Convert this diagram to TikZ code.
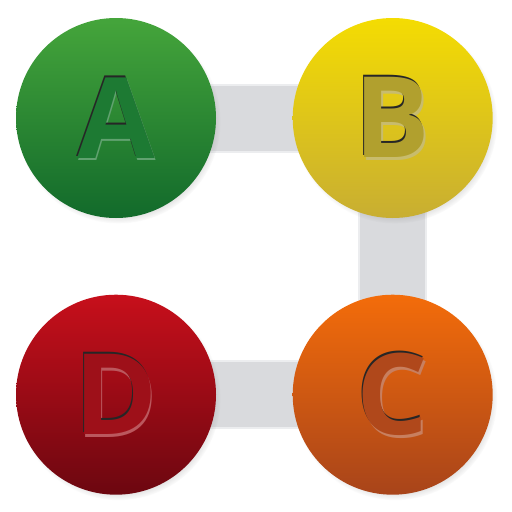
\documentclass[tikz,border=0pt]{standalone}
\usepackage{fontspec}
\setmainfont{Open Sans}
\usepackage{xcolor}
\usetikzlibrary{positioning,shadows,backgrounds}

\definecolor{grnTop}{HTML}{45A53B}
\definecolor{grnBot}{HTML}{126A2B}
\definecolor{ylwTop}{HTML}{F4DC02}
\definecolor{ylwBot}{HTML}{C8AE32}
\definecolor{orgTop}{HTML}{F36C0A}
\definecolor{orgBot}{HTML}{A8441A}
\definecolor{redTop}{HTML}{C70F1B}
\definecolor{redBot}{HTML}{6C0710}
\definecolor{grnTxt}{HTML}{1D7A33}
\definecolor{ylwTxt}{HTML}{B1A02E}
\definecolor{orgTxt}{HTML}{B0481B}
\definecolor{redTxt}{HTML}{9E1019}
\definecolor{barGray}{HTML}{D9DADD}
\definecolor{barEdge}{HTML}{ECEDEF}

% engraved letter: light copy below right, dark copy above left, fill on top
\newcommand{\carved}[2]{%
  \makebox[0pt]{\hspace{0.05cm}\raisebox{-0.05cm}{\textcolor{white!30!#1}{#2}}}%
  \makebox[0pt]{\hspace{-0.04cm}\raisebox{0.04cm}{\textcolor{black!85}{#2}}}%
  \makebox[0pt]{\textcolor{#1}{#2}}}

\begin{document}
\begin{tikzpicture}[
    node distance=1.52cm and 1.52cm,
    every node/.style={font=\fontsize{64}{64}\selectfont\bfseries},
    ball/.style={circle, minimum size=4cm, inner sep=0pt,
      circular drop shadow={shadow xshift=0.05cm, shadow yshift=-0.07cm, shadow scale=1.02, opacity=0.45}},
    bar/.style={line width=1.38cm, barGray}
]
\useasboundingbox (0,0) rectangle (10.24,-10.24);

\node[ball, top color=grnTop, bottom color=grnBot] (a) at (2.32,-2.36) {\carved{grnTxt}{A}};
\node[ball, top color=ylwTop, bottom color=ylwBot, right=of a] (b) {\carved{ylwTxt}{B}};
\node[ball, top color=orgTop, bottom color=orgBot, below=of b] (c) {\carved{orgTxt}{C}};
\node[ball, top color=redTop, bottom color=redBot, left=of c] (d) {\carved{redTxt}{D}};

\begin{scope}[on background layer]
\draw[bar, barEdge] (a.center) -- (b.center);
\draw[bar, line width=1.3cm] (a.center) -- (b.center);
\draw[bar, barEdge] (b.center) -- (c.center);
\draw[bar, line width=1.3cm] (b.center) -- (c.center);
\draw[bar, barEdge] (d.center) -- (c.center);
\draw[bar, line width=1.3cm] (d.center) -- (c.center);
\end{scope}
\end{tikzpicture}
\end{document}
